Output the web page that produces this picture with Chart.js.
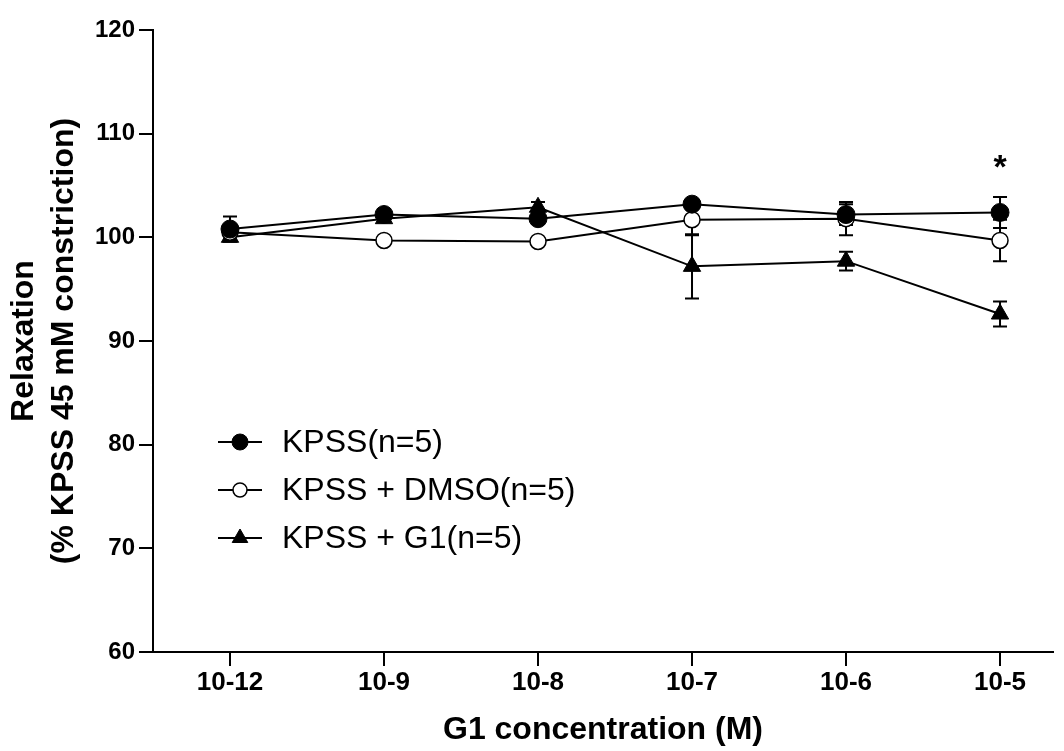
<!DOCTYPE html>
<html>
<head>
<meta charset="utf-8">
<script src="https://cdn.jsdelivr.net/npm/chart.js@4.4.1/dist/chart.umd.min.js"></script>
<style>
  body { margin: 0; background: #fff; }
  canvas { display: block; }
</style>
</head>
<body>
<canvas id="myChart" width="1064" height="751"></canvas>
<script>
// concentrations of G1 (M)
var concLabels = ["10-12", "10-9", "10-8", "10-7", "10-6", "10-5"];

// % relaxation, mean and SEM
var kpssMean = [100.8, 102.2, 101.8, 103.2, 102.2, 102.4];
var kpssSem  = [1.2, 0.5, 0.5, 0.4, 1.0, 1.5];
var dmsoMean = [100.5, 99.7, 99.6, 101.7, 101.8, 99.7];
var dmsoSem  = [0.4, 0.3, 0.3, 1.5, 1.6, 2.0];
var g1Mean   = [100.0, 101.8, 102.9, 97.2, 97.7, 92.6];
var g1Sem    = [0.4, 0.3, 0.5, 3.1, 0.9, 1.2];

var sigMarks = ["", "", "", "", "", "*"];

var yTicks = [60, 70, 80, 90, 100, 110, 120];

var FONT = "'Liberation Sans', Arial, sans-serif";

function toPoints(arr) {
  return arr.map(function (v, i) { return { x: i, y: v }; });
}

// error bars, drawn under the markers
var errorBars = {
  id: 'errorBars',
  beforeDatasetsDraw: function (chart) {
    var ctx = chart.ctx;
    var xs = chart.scales.x, ys = chart.scales.y;
    ctx.save();
    ctx.strokeStyle = '#000';
    ctx.lineWidth = 2;
    chart.data.datasets.forEach(function (ds) {
      ds.sem.forEach(function (e, i) {
        var px = xs.getPixelForValue(i);
        var top = ys.getPixelForValue(ds.data[i].y + e);
        var bot = ys.getPixelForValue(ds.data[i].y - e);
        ctx.beginPath();
        ctx.moveTo(px, top); ctx.lineTo(px, bot);
        ctx.moveTo(px - 7, top); ctx.lineTo(px + 7, top);
        ctx.moveTo(px - 7, bot); ctx.lineTo(px + 7, bot);
        ctx.stroke();
      });
    });
    ctx.restore();
  }
};

// significance star and legend inside the plot
var extras = {
  id: 'extras',
  afterDraw: function (chart) {
    var ctx = chart.ctx;
    var xs = chart.scales.x, ys = chart.scales.y;
    var area = chart.chartArea;
    ctx.save();
    ctx.fillStyle = '#000';
    ctx.font = 'bold 34px ' + FONT;
    ctx.textAlign = 'center';
    ctx.textBaseline = 'middle';
    sigMarks.forEach(function (m, i) {
      if (!m) return;
      var hi = 0;
      chart.data.datasets.forEach(function (ds) {
        hi = Math.max(hi, ds.data[i].y + ds.sem[i]);
      });
      ctx.fillText(m, xs.getPixelForValue(i), ys.getPixelForValue(hi) - 28);
    });

    // legend
    var lx = area.left + 65, ly = area.top + 412;
    ctx.font = '32px ' + FONT;
    ctx.textAlign = 'left';
    chart.data.datasets.forEach(function (ds, k) {
      var y = ly + k * 48;
      ctx.strokeStyle = '#000';
      ctx.lineWidth = 2;
      ctx.beginPath();
      ctx.moveTo(lx, y); ctx.lineTo(lx + 44, y);
      ctx.stroke();
      ctx.fillStyle = ds.pointBackgroundColor;
      ctx.strokeStyle = '#000';
      ctx.lineWidth = ds.pointBorderWidth;
      Chart.helpers.drawPoint(ctx, {
        pointStyle: ds.pointStyle, radius: ds.pointRadius - 1,
        borderWidth: ds.pointBorderWidth, rotation: 0
      }, lx + 22, y);
      ctx.fillStyle = '#000';
      ctx.fillText(ds.label, lx + 64, y + 1);
    });
    ctx.restore();
  }
};

var ctx = document.getElementById("myChart").getContext('2d');
var myChart = new Chart(ctx, {
  type: 'line',
  data: {
    datasets: [{
      label: 'KPSS(n=5)',
      data: toPoints(kpssMean),
      sem: kpssSem,
      borderColor: '#000',
      borderWidth: 2,
      pointStyle: 'circle',
      pointRadius: 9,
      pointBackgroundColor: '#000',
      pointBorderColor: '#000',
      pointBorderWidth: 1
    }, {
      label: 'KPSS + DMSO(n=5)',
      data: toPoints(dmsoMean),
      sem: dmsoSem,
      borderColor: '#000',
      borderWidth: 2,
      pointStyle: 'circle',
      pointRadius: 8,
      pointBackgroundColor: '#fff',
      pointBorderColor: '#000',
      pointBorderWidth: 1.5
    }, {
      label: 'KPSS + G1(n=5)',
      data: toPoints(g1Mean),
      sem: g1Sem,
      borderColor: '#000',
      borderWidth: 2,
      pointStyle: 'triangle',
      pointRadius: 10,
      pointBackgroundColor: '#000',
      pointBorderColor: '#000',
      pointBorderWidth: 1
    }]
  },
  options: {
    responsive: false,
    animation: false,
    devicePixelRatio: 1,
    layout: { padding: { top: 30, right: 0, left: 0, bottom: 0 } },
    plugins: {
      legend: { display: false },
      tooltip: { enabled: false }
    },
    scales: {
      x: {
        type: 'linear',
        min: -0.5,
        max: 5.344,
        afterBuildTicks: function (scale) {
          scale.ticks = concLabels.map(function (_, i) { return { value: i }; });
        },
        afterFit: function (scale) { scale.height = 99; },
        grid: { drawOnChartArea: false, tickLength: 14, color: '#000', lineWidth: 2 },
        border: { color: '#000', width: 2 },
        ticks: {
          color: '#000',
          padding: 1,
          maxRotation: 0,
          font: { family: FONT, size: 26, weight: 'bold' },
          callback: function (v) { return concLabels[v]; }
        },
        title: {
          display: true,
          text: 'G1 concentration (M)',
          color: '#000',
          padding: { top: 0, bottom: 2 },
          font: { family: FONT, size: 32, weight: 'bold' }
        }
      },
      y: {
        min: 60,
        max: 120,
        afterBuildTicks: function (scale) {
          scale.ticks = yTicks.map(function (v) { return { value: v }; });
        },
        afterFit: function (scale) { scale.width = 153; },
        grid: { drawOnChartArea: false, tickLength: 14, color: '#000', lineWidth: 2 },
        border: { color: '#000', width: 2 },
        ticks: {
          color: '#000',
          padding: 4,
          font: { family: FONT, size: 24, weight: 'bold' }
        },
        title: {
          display: true,
          text: ['Relaxation', '(% KPSS 45 mM constriction)'],
          color: '#000',
          padding: { top: 4, bottom: 0 },
          font: { family: FONT, size: 32, weight: 'bold', lineHeight: 1.25 }
        }
      }
    }
  },
  plugins: [errorBars, extras]
});
</script>
</body>
</html>
